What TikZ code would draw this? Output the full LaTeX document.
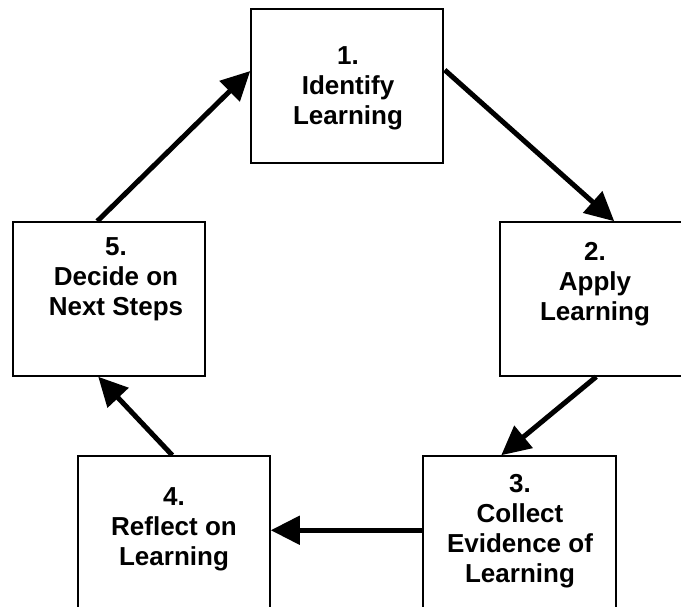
\documentclass[tikz,border=0pt]{standalone}
\usepackage{fontspec}
\setmainfont{Liberation Sans}
\usetikzlibrary{arrows.meta}
\begin{document}
\begin{tikzpicture}[x=1pt,y=-1pt,
  box/.style={draw=black,line width=1.5pt,rectangle,inner sep=0pt,fill=white},
  lbl/.style={anchor=north,align=center,inner sep=0pt,font=\fontsize{26}{30}\selectfont\bfseries},
  flow/.style={line width=5pt,-{Triangle[length=29pt,width=28pt]}}]
\useasboundingbox (0,0) rectangle (681,607);
\fill[white] (0,0) rectangle (681,607);
% boxes
\node[box,minimum width=192pt,minimum height=154pt] (b1) at (347,86) {};
\node[box,minimum width=195pt,minimum height=154pt] (b2) at (597.5,299) {};
\node[box,minimum width=193pt,minimum height=164pt] (b3) at (519.5,538) {};
\node[box,minimum width=192pt,minimum height=164pt] (b4) at (174,538) {};
\node[box,minimum width=192pt,minimum height=154pt] (b5) at (109,299) {};
% texts
\node[lbl] (t1) at (348,46) {1.\\Identify\\Learning};
\node[lbl] (t2) at (595,242) {2.\\Apply\\Learning};
\node[lbl] (t3) at (520,474) {3.\\Collect\\Evidence of\\Learning};
\node[lbl] (t4) at (174,487) {4.\\Reflect on\\Learning};
\node[lbl] (t5) at (116,237) {5.\\Decide on\\Next Steps};
% connectors
\draw[flow] ([xshift=85pt]b5.north west) -- ([yshift=15pt]b1.west);
\draw[flow] ([xshift=1pt,yshift=16pt]b1.east) -- ([xshift=115pt]b2.north west);
\draw[flow] ([xshift=97pt]b2.south west) -- ([xshift=79pt]b3.north west);
\draw[flow] ([yshift=-75pt]b3.north west) -- ([yshift=-75pt]b4.north east);
\draw[flow] ([xshift=95pt]b4.north west) -- ([xshift=86pt]b5.south west);
\end{tikzpicture}
\end{document}
